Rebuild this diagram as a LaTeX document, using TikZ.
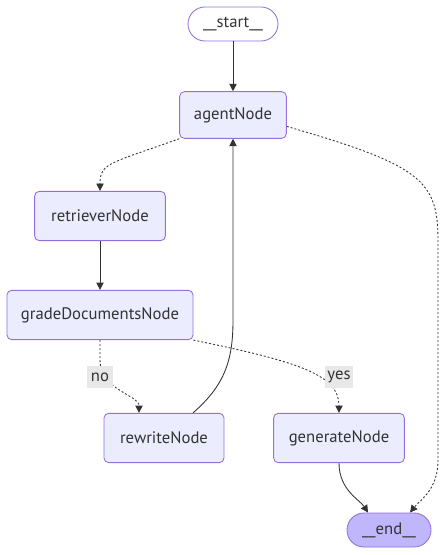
\documentclass[tikz,border=0pt]{standalone}
\usepackage{fontspec}
\setmainfont{PT Sans}
\usetikzlibrary{arrows.meta,calc}
\definecolor{nodefill}{HTML}{ECECFF}
\definecolor{nodeline}{HTML}{9370DB}
\definecolor{endfill}{HTML}{BFB6FC}
\definecolor{edgeline}{HTML}{333333}
\definecolor{labfill}{HTML}{E8E8E8}

\begin{document}
\begin{tikzpicture}[
  x=0.75pt, y=-0.75pt,
  font=\fontsize{12.5}{14}\selectfont, text=edgeline,
  box/.style={draw=nodeline, fill=nodefill, line width=0.65pt, rounded corners=3.5pt, minimum height=37pt, inner sep=2pt},
  term/.style={box, rounded corners=12.7pt, minimum height=25.5pt},
  arr/.style={-{Triangle[length=5.5pt,width=5.5pt]}, draw=edgeline, line width=0.65pt},
  dotarr/.style={arr, dash pattern=on 1.5pt off 1.5pt},
  lab/.style={fill=labfill, inner sep=2pt, minimum width=20pt, minimum height=17pt}]
\useasboundingbox (0,0) rectangle (447,555);
% ---- nodes ----
\node[term, fill=white, minimum width=67.5pt] (start) at (233,24) {\_\_start\_\_};
\node[box, minimum width=80pt, minimum height=35pt] (agent) at (233,115) {agentNode};
\node[box, minimum width=98pt] (retriever) at (100,216) {retrieverNode};
\node[box, minimum width=139.5pt] (grade) at (100,315) {gradeDocumentsNode};
\node[box, minimum width=90pt] (rewrite) at (164,438) {rewriteNode};
\node[box, minimum width=98pt] (generate) at (339,438) {generateNode};
\node[term, fill=endfill, minimum width=63pt] (end) at (389,530) {\_\_end\_\_};
% ---- edges ----
\draw[arr] (start) -- (agent);
\draw[dotarr] (agent.south west) .. controls +(-70,25) and +(0,-28) .. (retriever.north);
\draw[dotarr] (agent.-12) .. controls (420,165) and (438,180) .. (438,240) -- (438,460)
  .. controls (438,490) and (420,500) .. ($(end.north)+(21,0)$);
\draw[arr] (retriever) -- (grade);
\draw[dotarr] (grade.south) -- (100,360) .. controls (100,390) and (139,395) .. ($(rewrite.north)+(-25,0)$);
\draw[dotarr] (grade.south east) .. controls (300,362) and (339,375) .. (generate.north);
\draw[arr] ($(rewrite.north)+(29,0)$) .. controls (225,385) and (233,360) .. (233,320) -- (agent.south);
\draw[arr] (generate.south) .. controls (339,490) and (360,500) .. ($(end.north)+(-21,0)$);
% edge labels
\node[lab] (no) at (100,377) {no};
\node[lab] (yes) at (339,377) {yes};
\end{tikzpicture}
\end{document}
